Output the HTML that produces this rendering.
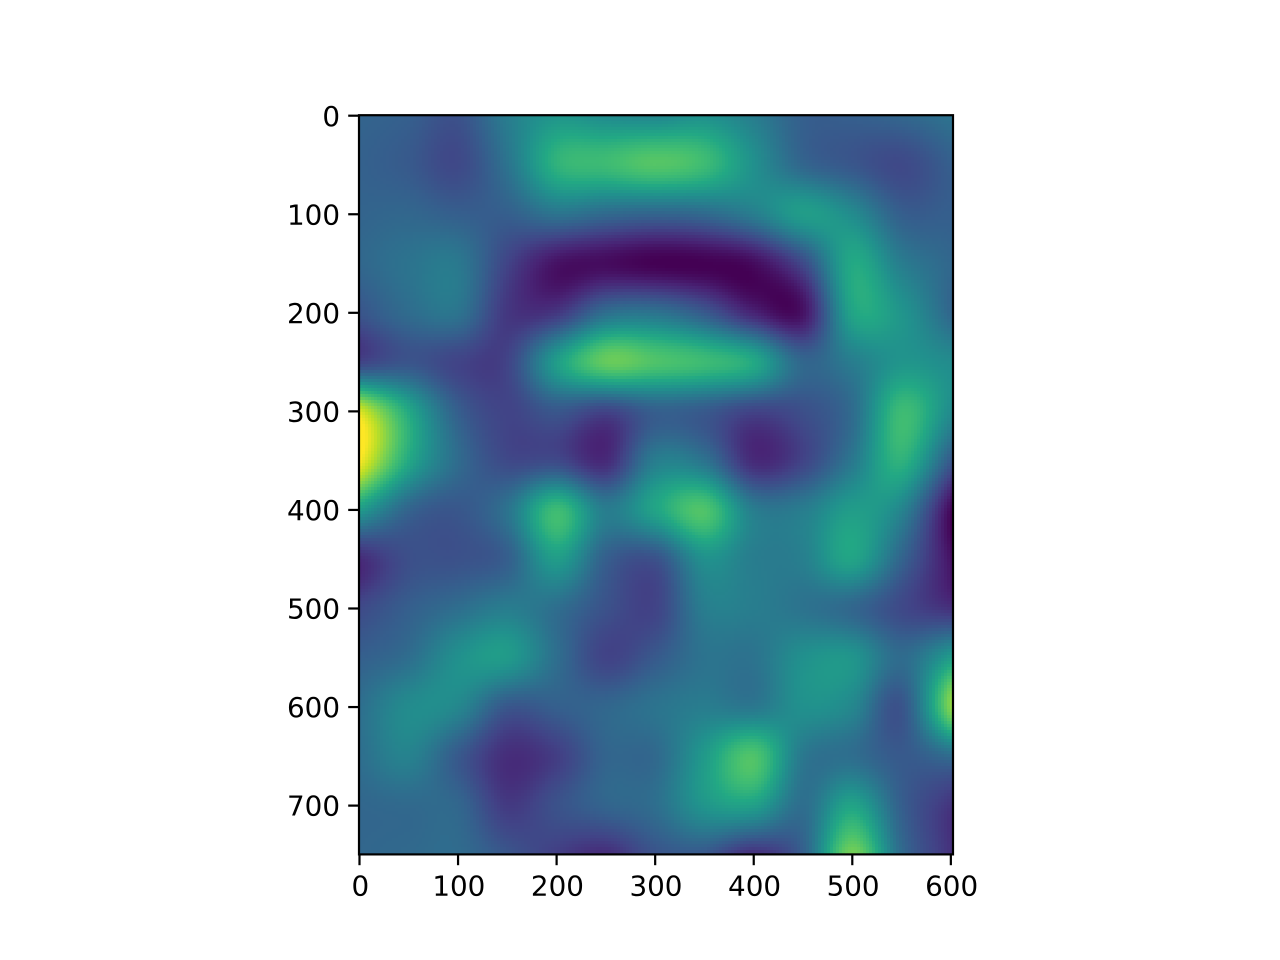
<!DOCTYPE html>
<html>
<head>
<meta charset="utf-8">
<title>Heatmap</title>
<style>
html,body{margin:0;padding:0;background:#fff;width:1280px;height:960px;overflow:hidden}
svg{display:block}
text{font-family:"DejaVu Sans","Liberation Sans",sans-serif;font-size:27.78px;fill:#000}
</style>
</head>
<body>
<svg id="chart" width="1280" height="960" viewBox="0 0 1280 960" xmlns="http://www.w3.org/2000/svg">
<g id="cells" shape-rendering="crispEdges"></g>
<g id="ticks"></g>
<rect x="359" y="115.2" width="594" height="739.2" fill="none" stroke="#000" stroke-width="2.2"></rect>
</svg>
<script>
const xTicks = [0, 100, 200, 300, 400, 500, 600];
const yTicks = [0, 100, 200, 300, 400, 500, 600, 700];
const gridStep = 50;
const row0   = [.32,.30,.25,.42,.52,.48,.46,.50,.42,.30,.30,.33,.38];
const row50  = [.31,.28,.22,.38,.64,.68,.73,.68,.50,.33,.27,.22,.30];
const row100 = [.32,.33,.30,.30,.38,.34,.32,.34,.42,.55,.48,.30,.30];
const row150 = [.33,.38,.40,.20,.05,.03,.00,.00,.03,.22,.60,.42,.33];
const row200 = [.26,.35,.38,.16,.16,.36,.38,.28,.10,.05,.58,.52,.33];
const row250 = [.20,.26,.20,.20,.55,.76,.72,.68,.60,.33,.42,.52,.48];
const row300 = [.95,.60,.30,.20,.27,.20,.30,.28,.20,.24,.35,.68,.48];
const row350 = [1.0,.60,.35,.22,.22,.12,.42,.38,.12,.20,.40,.64,.28];
const row400 = [.55,.32,.27,.38,.68,.42,.58,.72,.42,.42,.55,.45,.02];
const row450 = [.12,.24,.25,.30,.55,.30,.25,.50,.42,.43,.58,.32,.05];
const row500 = [.22,.30,.36,.42,.36,.25,.20,.42,.42,.38,.33,.22,.14];
const row550 = [.30,.36,.50,.54,.36,.20,.28,.38,.38,.50,.52,.35,.55];
const row600 = [.36,.48,.46,.27,.30,.33,.38,.42,.40,.50,.46,.26,.82];
const row650 = [.36,.44,.28,.13,.18,.32,.34,.54,.72,.40,.36,.28,.35];
const row700 = [.33,.34,.33,.17,.25,.32,.36,.52,.56,.36,.58,.30,.15];
const row750 = [.33,.34,.35,.27,.18,.12,.25,.26,.12,.30,.80,.35,.14];
const heatRows = [row0,row50,row100,row150,row200,row250,row300,row350,row400,row450,row500,row550,row600,row650,row700,row750];

const SVGNS = 'http://www.w3.org/2000/svg';
const PX_PER_UNIT = 739.2 / 750;
const AX_LEFT = 359, AX_TOP = 115.2, AX_W = 594, AX_H = 739.2;
function xScale(v){ return AX_LEFT + (v + 0.5) * PX_PER_UNIT; }
function yScale(v){ return AX_TOP + (v + 0.5) * PX_PER_UNIT; }
function xInvert(p){ return (p - AX_LEFT) / PX_PER_UNIT - 0.5; }
function yInvert(p){ return (p - AX_TOP) / PX_PER_UNIT - 0.5; }

const viridis = ['#440154','#482475','#414487','#355f8d','#2a788e','#21908d','#22a884','#44bf70','#7ad151','#bddf26','#fde725'].map(h => [parseInt(h.slice(1,3),16),parseInt(h.slice(3,5),16),parseInt(h.slice(5,7),16)]);
function colorScale(v){
  const t = Math.max(0, Math.min(1, v)) * (viridis.length - 1);
  const i = Math.min(viridis.length - 2, Math.floor(t));
  const f = t - i, a = viridis[i], b = viridis[i + 1];
  return 'rgb(' + Math.round(a[0] + (b[0]-a[0])*f) + ',' + Math.round(a[1] + (b[1]-a[1])*f) + ',' + Math.round(a[2] + (b[2]-a[2])*f) + ')';
}
function cubic(p0,p1,p2,p3,t){
  return p1 + 0.5*t*(p2-p0 + t*(2*p0-5*p1+4*p2-p3 + t*(3*(p1-p2)+p3-p0)));
}
function sampleRow(r, u){
  const n = r.length;
  const i = Math.max(0, Math.min(n - 2, Math.floor(u)));
  const t = u - i;
  const p1 = r[i], p2 = r[i+1];
  const p0 = i > 0 ? r[i-1] : 2*p1 - p2;
  const p3 = i < n-2 ? r[i+2] : 2*p2 - p1;
  return cubic(p0,p1,p2,p3,t);
}
function sampleGrid(dx, dy){
  const u = dx / gridStep, v = dy / gridStep;
  const col = heatRows.map(r => sampleRow(r, u));
  return sampleRow(col, v);
}

const cellsGroup = document.getElementById('cells');
const frag = document.createDocumentFragment();
const CELL = 3;
for (let py = 115; py < 854; py += CELL) {
  for (let px = 359; px < 953; px += CELL) {
    const w = Math.min(CELL, 953 - px), h = Math.min(CELL, 855 - py);
    const val = sampleGrid(xInvert(px + w/2), yInvert(py + h/2));
    const c = document.createElementNS(SVGNS, 'rect');
    c.setAttribute('x', px);
    c.setAttribute('y', py);
    c.setAttribute('width', w);
    c.setAttribute('height', h);
    c.setAttribute('fill', colorScale(val));
    
    
    frag.appendChild(c);
  }
}
cellsGroup.appendChild(frag);

const tickGroup = document.getElementById('ticks');
xTicks.forEach(v => {
  const l = document.createElementNS(SVGNS, 'line');
  l.setAttribute('x1', xScale(v));
  l.setAttribute('x2', xScale(v));
  l.setAttribute('y1', AX_TOP + AX_H);
  l.setAttribute('y2', AX_TOP + AX_H + 10.8);
  l.setAttribute('stroke', '#000');
  l.setAttribute('stroke-width', '2.2');
  
  
  tickGroup.appendChild(l);
  const t = document.createElementNS(SVGNS, 'text');
  t.setAttribute('x', xScale(v) + 0.8);
  t.setAttribute('y', 895.5);
  t.setAttribute('text-anchor', 'middle');
  
  
  t.textContent = v;
  tickGroup.appendChild(t);
});
yTicks.forEach(v => {
  const l = document.createElementNS(SVGNS, 'line');
  l.setAttribute('x1', AX_LEFT);
  l.setAttribute('x2', AX_LEFT - 10.8);
  l.setAttribute('y1', yScale(v));
  l.setAttribute('y2', yScale(v));
  l.setAttribute('stroke', '#000');
  l.setAttribute('stroke-width', '2.2');
  
  
  tickGroup.appendChild(l);
  const t = document.createElementNS(SVGNS, 'text');
  t.setAttribute('x', 340);
  t.setAttribute('y', yScale(v) + 10.1);
  t.setAttribute('text-anchor', 'end');
  
  
  t.textContent = v;
  tickGroup.appendChild(t);
});
</script>
</body>
</html>
